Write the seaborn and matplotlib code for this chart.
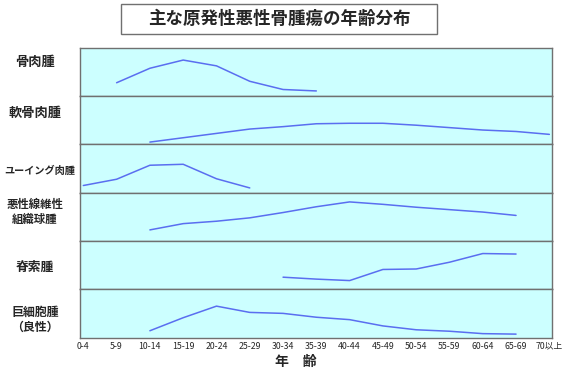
import numpy as np
import pandas as pd
import matplotlib
matplotlib.use('Agg')
import matplotlib.pyplot as plt
import seaborn as sns
from matplotlib.patches import Rectangle

sns.set_style('white')
plt.rcParams['font.family'] = ['Noto Sans CJK JP', 'DejaVu Sans']

nan = np.nan

# age groups on the x axis
age_groups = ['0-4', '5-9', '10-14', '15-19', '20-24', '25-29', '30-34', '35-39',
              '40-44', '45-49', '50-54', '55-59', '60-64', '65-69', '70以上']

# relative frequency per tumor (0-100 = panel height)
osteosarcoma   = [nan, 28, 58, 75, 63, 31, 14, 11, nan, nan, nan, nan, nan, nan, nan]
chondrosarcoma = [nan, nan, 5, 14, 23, 32, 37, 43, 44, 44, 40, 35, 30, 27, 21]
ewing          = [15, 28, 57, 59, 29, 10, nan, nan, nan, nan, nan, nan, nan, nan, nan]
mfh            = [nan, nan, 23, 36, 41, 48, 59, 71, 81, 76, 70, 65, 60, 53, nan]
chordoma       = [nan, nan, nan, nan, nan, nan, 25, 21, 18, 41, 42, 56, 74, 73, nan]
giant_cell     = [nan, nan, 14, 41, 65, 52, 50, 42, 37, 24, 16, 13, 8, 7, nan]

tumors = ['骨肉腫', '軟骨肉腫', 'ユーイング肉腫', '悪性線維性\n組織球腫', '脊索腫', '巨細胞腫\n（良性）']
series = [osteosarcoma, chondrosarcoma, ewing, mfh, chordoma, giant_cell]

rows = []
for name, vals in zip(tumors, series):
    for i, v in enumerate(vals):
        if not np.isnan(v):
            rows.append((name, i, v))
df = pd.DataFrame(rows, columns=['tumor', 'age', 'value'])

W, H = 568, 371
fig, axes = plt.subplots(6, 1, sharex=True, figsize=(W / 100, H / 100), dpi=100)
fig.subplots_adjust(left=80 / W, right=552 / W, top=1 - 48 / H, bottom=1 - 337.5 / H, hspace=0)

label_x = [35, 35, 40, 35, 35, 35]
label_y = [62, 113, 171, 212, 267, 320]
label_size = [9.5, 9.5, 7.3, 8.2, 9.2, 8.6]
line_color = '#5a6ef0'
edge = '#707070'

for ax, name, lx, ly, fs in zip(axes, tumors, label_x, label_y, label_size):
    sub = df[df['tumor'] == name]
    sns.lineplot(data=sub, x='age', y='value', ax=ax, color=line_color, lw=1.1)
    ax.set_facecolor('#ccffff')
    ax.set_ylim(0, 100)
    ax.set_yticks([])
    ax.set_xlabel('')
    ax.set_ylabel('')
    for s in ax.spines.values():
        s.set_color(edge)
        s.set_linewidth(1)
    fig.text(lx / W, 1 - ly / H, name, ha='center', va='center', fontsize=fs,
             fontweight='bold', linespacing=1.25)

ax = axes[-1]
ax.set_xlim(-0.1, 14.08)
ax.set_xticks(range(len(age_groups)))
ax.set_xticklabels(age_groups, fontsize=6.3)
for a in axes[:-1]:
    a.tick_params(bottom=False, labelbottom=False)
ax.tick_params(axis='x', direction='in', length=3, color=edge, pad=3)

fig.text(296 / W, 1 - 362 / H, '年　齢', ha='center', va='center', fontsize=10, fontweight='bold')

# title in a box
fig.patches.append(Rectangle((121 / W, 1 - 34.4 / H), 316 / W, 30.8 / H, transform=fig.transFigure,
                             facecolor='white', edgecolor=edge, lw=1))
fig.text(279.5 / W, 1 - 19 / H, '主な原発性悪性骨腫瘍の年齢分布', ha='center', va='center',
         fontsize=12.6, fontweight='bold')

plt.savefig('out.png', dpi=100)
